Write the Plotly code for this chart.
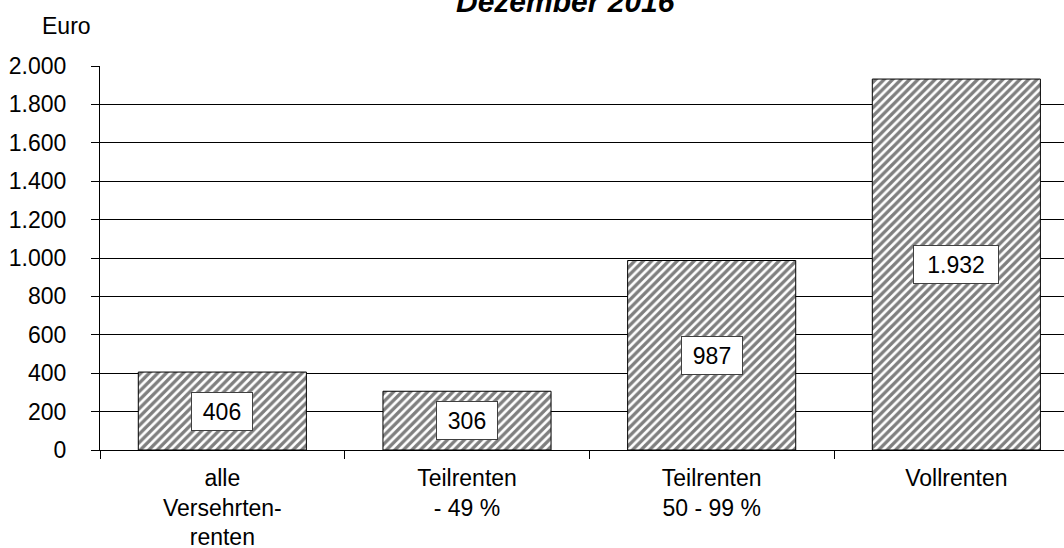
import plotly.graph_objects as go

categories = ["alle<br>Versehrten-<br>renten", "Teilrenten<br>- 49 %", "Teilrenten<br>50 - 99 %", "Vollrenten"]
values = [406, 306, 987, 1932]
value_labels = ["406", "306", "987", "1.932"]
y_ticks = [0, 200, 400, 600, 800, 1000, 1200, 1400, 1600, 1800, 2000]
y_tick_labels = ["0", "200", "400", "600", "800", "1.000", "1.200", "1.400", "1.600", "1.800", "2.000"]
title_text = "Dezember 2016"
y_title = "Euro"

FONT = "Liberation Sans, Arial, sans-serif"
FS = 23

fig = go.Figure()
fig.add_trace(go.Bar(
    x=categories, y=values, width=0.687,
    marker=dict(color="white", line=dict(color="black", width=1),
                pattern=dict(shape="/", fgcolor="black", bgcolor="white", size=6, solidity=0.55)),
    hoverinfo="skip",
))

for c, v, t in zip(categories, values, value_labels):
    fig.add_annotation(x=c, y=v / 2, text=t, showarrow=False, xref="x", yref="y",
                       font=dict(family=FONT, size=FS, color="black"),
                       bgcolor="white", bordercolor="#404040", borderwidth=1, borderpad=4,
                       width=len(t) * 12 + 16, height=29)

fig.add_annotation(x=-34 / 964, y=1 + 40 / 384, xref="paper", yref="paper", text=y_title, showarrow=False,
                   font=dict(family=FONT, size=FS, color="black"), xanchor="center", yanchor="middle")
fig.add_annotation(x=(565 - 100) / 964, y=1 + 64 / 384, xref="paper", yref="paper",
                   text="<b><i>" + title_text + "</i></b>",
                   showarrow=False, font=dict(family=FONT, size=30, color="black"),
                   xanchor="center", yanchor="middle")

fig.update_layout(
    width=1064, height=548,
    margin=dict(l=100, r=0, t=66, b=98, autoexpand=False),
    plot_bgcolor="white", paper_bgcolor="white",
    showlegend=False,
    font=dict(family=FONT, size=FS, color="black"),
)
fig.update_xaxes(range=[-0.5, 3.44], tickson="boundaries", ticks="outside", ticklen=8, tickcolor="black",
                 showline=True, linecolor="black", linewidth=1, showgrid=False,
                 tickfont=dict(family=FONT, size=FS, color="black"), ticklabelstandoff=7)
fig.update_yaxes(range=[0, 2000], tickvals=y_ticks, ticktext=y_tick_labels, ticks="outside", ticklen=8,
                 tickcolor="black", showline=True, linecolor="black", linewidth=1,
                 showgrid=True, gridcolor="black", gridwidth=1, zeroline=False,
                 tickfont=dict(family=FONT, size=FS, color="black"), ticklabelstandoff=20)

fig.write_html("out.html", config={"displayModeBar": False},
               post_script="document.body.style.margin='0';document.body.style.overflow='hidden';")
